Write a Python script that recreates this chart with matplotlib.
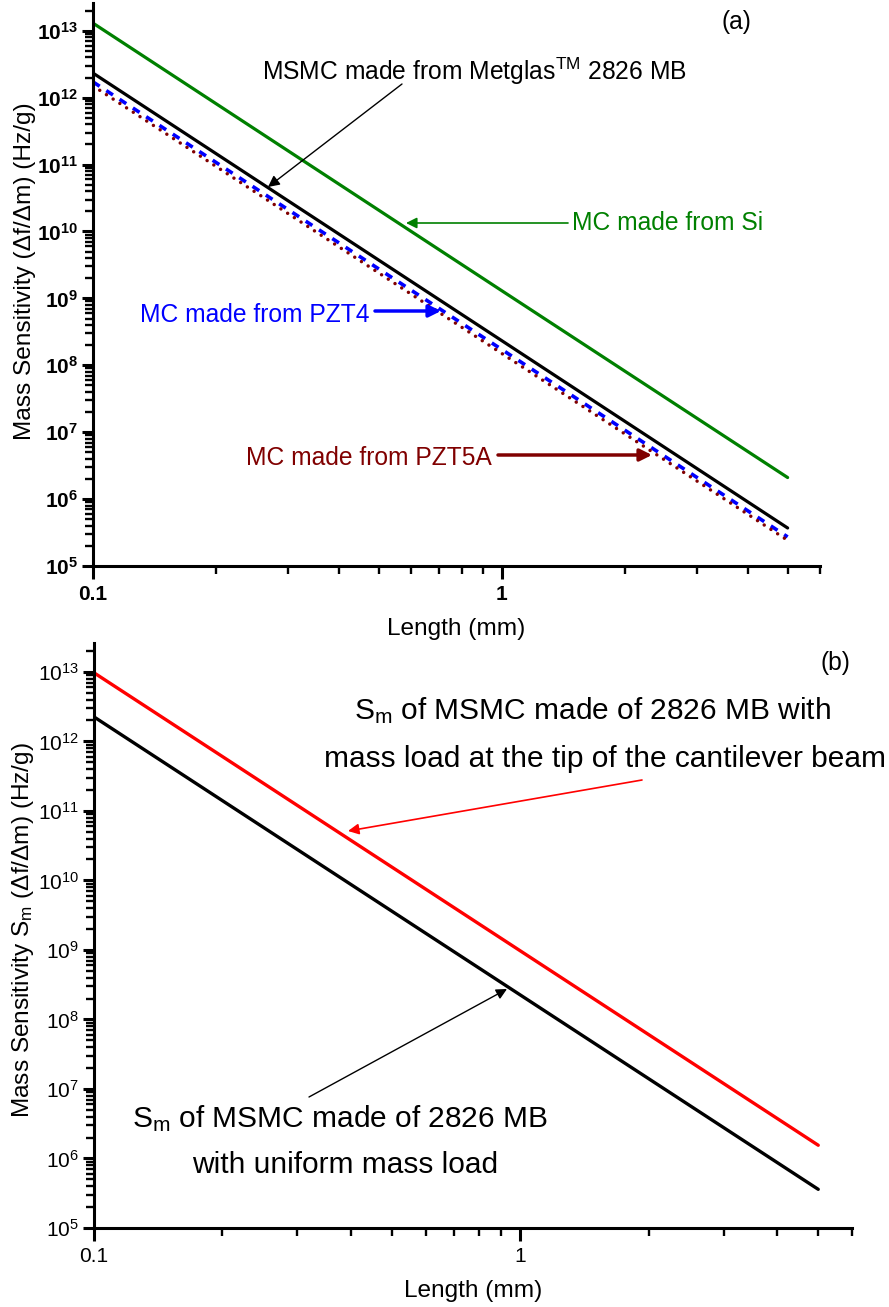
import matplotlib
matplotlib.use("Agg")
import matplotlib.pyplot as plt
from matplotlib.ticker import FixedLocator, NullFormatter, FixedFormatter

plt.rcParams['font.family'] = ['Liberation Sans', 'DejaVu Sans']
plt.rcParams['mathtext.fontset'] = 'custom'
plt.rcParams['mathtext.rm'] = 'Liberation Sans'
plt.rcParams['mathtext.it'] = 'Liberation Sans:italic'
plt.rcParams['mathtext.bf'] = 'Liberation Sans:bold'

# ---------------- data ----------------
length_mm = [0.1, 1.0, 5.0]
# panel (a)
sm_si = [1.3e13, 1.3e9, 2.1e6]
sm_metglas = [2.33e12, 2.33e8, 3.7e5]
sm_pzt4 = [1.72e12, 1.72e8, 2.72e5]
sm_pzt5a = [1.5e12, 1.5e8, 2.42e5]
# panel (b)
sm_tip = [9.7e12, 9.7e8, 1.55e6]
sm_uniform = [2.25e12, 2.25e8, 3.6e5]

x_major = [0.1, 1]
x_major_labels = ['0.1', '1']
x_minor = [0.2, 0.3, 0.4, 0.5, 0.6, 0.7, 0.8, 0.9, 2, 3, 4, 5, 6]
y_exponents = [5, 6, 7, 8, 9, 10, 11, 12, 13]
y_minor_mult = [2, 3, 4, 5, 6, 7, 8, 9]

W, H = 889, 1307
fig = plt.figure(figsize=(W / 100, H / 100), dpi=100)


def fp(x, y):
    return (x / W, 1 - y / H)


def rect(l, t, r, b):
    return [l / W, 1 - b / H, (r - l) / W, (b - t) / H]


ax1 = fig.add_axes(rect(93, 3, 820, 566))
ax2 = fig.add_axes(rect(94, 643, 852, 1228))

TICK_FS = 15
LAB_FS = 17.6

y_major = [10.0 ** e for e in y_exponents]
y_minor = [m * 10.0 ** e for e in y_exponents for m in y_minor_mult if m * 10.0 ** e < 2.6e13]
y_labels_bold = ['$\\mathbf{10^{%d}}$' % e for e in y_exponents]
y_labels = ['$\\mathrm{10^{%d}}$' % e for e in y_exponents]

for ax, bold in ((ax1, True), (ax2, False)):
    ax.set_xscale('log')
    ax.set_yscale('log')
    ax.set_xlim(0.1, 6.0)
    ax.set_ylim(1e5, 2.6e13)
    ax.spines['top'].set_visible(False)
    ax.spines['right'].set_visible(False)
    for s in ('left', 'bottom'):
        ax.spines[s].set_linewidth(2.2)
    ax.xaxis.set_major_locator(FixedLocator(x_major))
    ax.xaxis.set_major_formatter(FixedFormatter(x_major_labels))
    ax.xaxis.set_minor_locator(FixedLocator(x_minor))
    ax.xaxis.set_minor_formatter(NullFormatter())
    ax.yaxis.set_major_locator(FixedLocator(y_major))
    ax.yaxis.set_major_formatter(FixedFormatter(y_labels_bold if bold else y_labels))
    ax.yaxis.set_minor_locator(FixedLocator(y_minor))
    ax.yaxis.set_minor_formatter(NullFormatter())
    ax.tick_params(axis='both', which='major', direction='out', width=2.2,
                   labelsize=TICK_FS)
    ax.tick_params(axis='x', which='major', length=9, pad=5)
    ax.tick_params(axis='y', which='major', length=8, pad=3)
    ax.tick_params(axis='both', which='minor', direction='out', width=1.7, length=5.5)
    for lab in ax.get_xticklabels():
        lab.set_fontweight('bold' if bold else 'normal')
    ax.set_xlabel('Length (mm)', fontsize=LAB_FS, labelpad=10)

ax1.set_ylabel('Mass Sensitivity (\u0394f/\u0394m) (Hz/g)', fontsize=LAB_FS)
ax2.set_ylabel('Mass Sensitivity S$_{\\mathrm{m}}$ (\u0394f/\u0394m) (Hz/g)', fontsize=LAB_FS)
ax1.yaxis.set_label_coords(-0.078, 0.524)
ax2.yaxis.set_label_coords(-0.076, 0.51)

# ---------------- panel (a) lines ----------------
ax1.plot(length_mm, sm_si, color='#008000', lw=2.3, solid_capstyle='round')
ax1.plot(length_mm, sm_metglas, color='black', lw=2.3, solid_capstyle='round')
ax1.plot(length_mm, sm_pzt4, color='#0000FF', lw=2.6, dashes=(2.2, 2.2))
ax1.plot(length_mm, sm_pzt5a, color='#800000', lw=2.5, linestyle=(0, (0.01, 2.3)),
         dash_capstyle='round')

ANN_FS = 17.7
fig.text(*fp(736, 22), '(a)', fontsize=ANN_FS, ha='center', va='center')
fig.text(*fp(262, 80), 'MSMC made from Metglas$^{\\mathrm{TM}}$ 2826 MB', fontsize=ANN_FS,
         ha='left', va='baseline')
ax1.annotate('', xy=fp(268, 187), xycoords='figure fraction', xytext=fp(402, 84),
             textcoords='figure fraction',
             arrowprops=dict(arrowstyle='-|>', color='black', lw=1.0, mutation_scale=17,
                             shrinkA=0, shrinkB=0))
fig.text(*fp(572, 230), 'MC made from Si', fontsize=ANN_FS, color='#008000',
         ha='left', va='baseline')
ax1.annotate('', xy=fp(406, 223), xycoords='figure fraction', xytext=fp(568, 223),
             textcoords='figure fraction',
             arrowprops=dict(arrowstyle='-|>', color='#008000', lw=1.2, mutation_scale=16,
                             shrinkA=0, shrinkB=0))
fig.text(*fp(140, 322), 'MC made from PZT4', fontsize=ANN_FS, color='#0000FF',
         ha='left', va='baseline')
ax1.annotate('', xy=fp(441, 311), xycoords='figure fraction', xytext=fp(375, 311),
             textcoords='figure fraction',
             arrowprops=dict(arrowstyle='-|>', color='#0000FF', lw=2.5, mutation_scale=18,
                             shrinkA=0, shrinkB=0))
fig.text(*fp(246, 465), 'MC made from PZT5A', fontsize=ANN_FS, color='#800000',
         ha='left', va='baseline')
ax1.annotate('', xy=fp(652, 455), xycoords='figure fraction', xytext=fp(498, 455),
             textcoords='figure fraction',
             arrowprops=dict(arrowstyle='-|>', color='#800000', lw=2.5, mutation_scale=18,
                             shrinkA=0, shrinkB=0))

# ---------------- panel (b) lines ----------------
ax2.plot(length_mm, sm_tip, color='#FF0000', lw=2.4, solid_capstyle='round')
ax2.plot(length_mm, sm_uniform, color='black', lw=2.4, solid_capstyle='round')

B_FS = 21.5
fig.text(*fp(835, 663), '(b)', fontsize=ANN_FS, ha='center', va='center')
fig.text(*fp(592, 719), 'S$_{\\mathrm{m}}$ of MSMC made of 2826 MB with', fontsize=B_FS,
         ha='center', va='baseline')
fig.text(*fp(605, 767), 'mass load at the tip of the cantilever beam', fontsize=B_FS,
         ha='center', va='baseline')
ax2.annotate('', xy=fp(348, 831), xycoords='figure fraction', xytext=fp(642, 780),
             textcoords='figure fraction',
             arrowprops=dict(arrowstyle='-|>', color='#FF0000', lw=1.2, mutation_scale=16,
                             shrinkA=0, shrinkB=0))
fig.text(*fp(340, 1127), 'S$_{\\mathrm{m}}$ of MSMC made of 2826 MB', fontsize=B_FS,
         ha='center', va='baseline')
fig.text(*fp(345, 1173), 'with uniform mass load', fontsize=B_FS,
         ha='center', va='baseline')
ax2.annotate('', xy=fp(507, 989), xycoords='figure fraction', xytext=fp(309, 1097),
             textcoords='figure fraction',
             arrowprops=dict(arrowstyle='-|>', color='black', lw=1.0, mutation_scale=16,
                             shrinkA=0, shrinkB=0))

fig.savefig('out.png', dpi=100)
